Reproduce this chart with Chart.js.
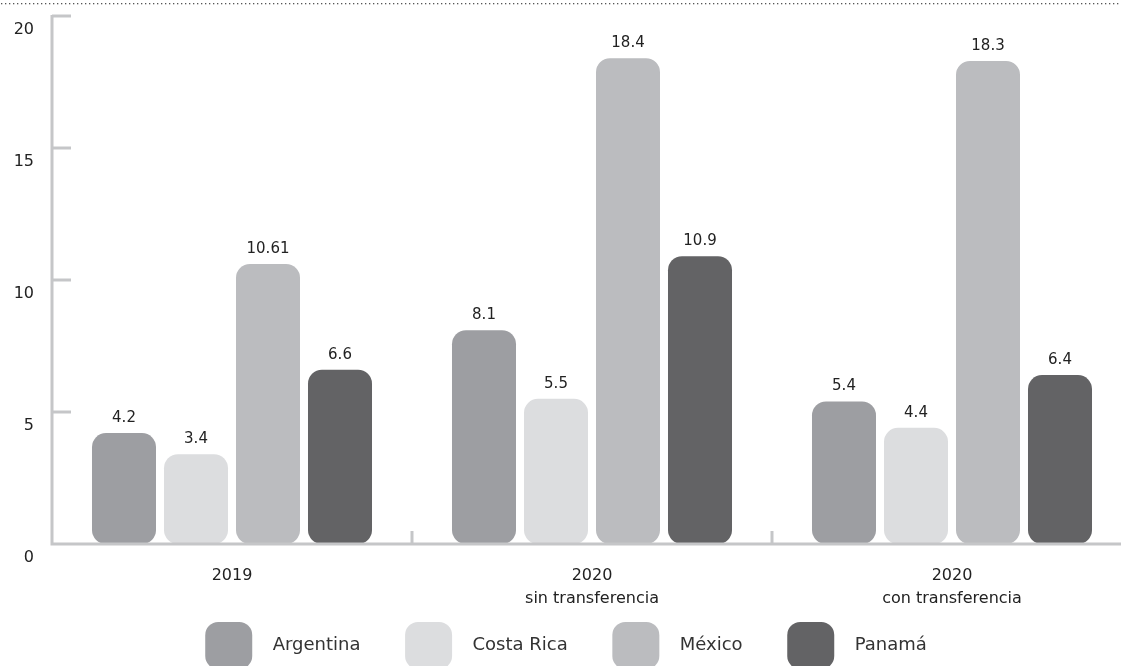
<!DOCTYPE html>
<html>
<head>
<meta charset="utf-8">
<script src="https://cdn.jsdelivr.net/npm/chart.js@4"></script>
<style>
  html, body { margin: 0; padding: 0; background: #fff; overflow: hidden; }
  #wrap { width: 1132px; height: 679px; position: relative; }
</style>
</head>
<body>
<div id="wrap"><canvas id="myChart"></canvas></div>
<script>
var categories = ['2019', ['2020', 'sin transferencia'], ['2020', 'con transferencia']];
var countries = ['Argentina', 'Costa Rica', 'México', 'Panamá'];
var argentina = [4.2, 8.1, 5.4];
var costaRica = [3.4, 5.5, 4.4];
var mexico = [10.61, 18.4, 18.3];
var panama = [6.6, 10.9, 6.4];
var yTicks = [0, 5, 10, 15, 20];

var colors = ['#9d9ea2', '#dcdddf', '#bbbcbf', '#636365'];
var series = [argentina, costaRica, mexico, panama];
var axisGrey = '#c5c6c8';
var fontFamily = '"DejaVu Sans", sans-serif';

// axis line, short tick stubs, category dividers, value labels, dotted rule on top
var decorations = {
  id: 'decorations',
  afterDraw: function (chart) {
    var c = chart.ctx, area = chart.chartArea;
    var y = chart.scales.y, x = chart.scales.x;
    c.save();
    c.strokeStyle = axisGrey;
    c.lineWidth = 3;
    c.beginPath();
    c.moveTo(area.left, area.top - 1);
    c.lineTo(area.left, area.bottom);
    c.lineTo(area.right, area.bottom);
    c.stroke();
    yTicks.forEach(function (v) {
      if (v === 0) return;
      var py = y.getPixelForValue(v);
      c.beginPath();
      c.moveTo(area.left, py);
      c.lineTo(area.left + 19, py);
      c.stroke();
    });
    for (var i = 1; i < categories.length; i++) {
      var px = (x.getPixelForValue(i - 1) + x.getPixelForValue(i)) / 2;
      c.beginPath();
      c.moveTo(px, area.bottom);
      c.lineTo(px, area.bottom - 13);
      c.stroke();
    }
    // value labels
    c.fillStyle = '#222';
    c.font = '15px ' + fontFamily;
    c.textAlign = 'center';
    c.textBaseline = 'middle';
    chart.data.datasets.forEach(function (ds, di) {
      chart.getDatasetMeta(di).data.forEach(function (bar, i) {
        c.fillText(String(ds.data[i]), bar.x, bar.y - 15);
      });
    });
    // dotted rule
    c.fillStyle = '#555';
    for (var dx = 1; dx < chart.width; dx += 4) {
      c.fillRect(dx, 3, 1.3, 1.3);
    }
    c.restore();
  }
};

var ctx = document.getElementById('myChart').getContext('2d');

var chart = new Chart(ctx, {
  type: 'bar',
  data: {
    labels: categories,
    datasets: countries.map(function (name, i) {
      return {
        label: name,
        data: series[i],
        backgroundColor: colors[i],
        borderRadius: 14,
        borderSkipped: false,
        barPercentage: 0.889,
        categoryPercentage: 0.8
      };
    })
  },
  options: {
    responsive: true,
    maintainAspectRatio: false,
    animation: false,
    layout: { padding: { top: 16, right: 0, bottom: 0, left: 0 } },
    plugins: {
      tooltip: { enabled: false },
      legend: {
        position: 'bottom',
        labels: {
          boxWidth: 47,
          boxHeight: 47,
          useBorderRadius: true,
          borderRadius: 13,
          padding: 16,
          color: '#333',
          font: { family: fontFamily, size: 18 },
          // spaces around the names widen the gap to the swatches
          generateLabels: function (chart) {
            var n = chart.data.datasets.length;
            return chart.data.datasets.map(function (ds, i) {
              return {
                text: '  ' + ds.label + (i < n - 1 ? '     ' : ''),
                fillStyle: ds.backgroundColor,
                strokeStyle: ds.backgroundColor,
                lineWidth: 0,
                fontColor: '#333',
                borderRadius: 13,
                datasetIndex: i
              };
            });
          }
        }
      }
    },
    scales: {
      x: {
        afterFit: function (scale) { scale.height = 62; },
        grid: { display: false, drawTicks: false },
        border: { display: false },
        ticks: {
          color: '#222',
          padding: 21,
          font: { family: fontFamily, size: 16, lineHeight: 1.4 }
        }
      },
      y: {
        min: 0,
        max: 20,
        afterFit: function (scale) {
          scale.width = 52;
          scale.paddingTop = 0;
          scale.paddingBottom = 0;
        },
        afterBuildTicks: function (scale) {
          scale.ticks = yTicks.map(function (v) { return { value: v }; });
        },
        grid: { display: false, drawTicks: false },
        border: { display: false },
        ticks: {
          color: '#222',
          padding: 18,
          labelOffset: 14,
          font: { family: fontFamily, size: 16 }
        }
      }
    }
  },
  plugins: [decorations]
});
</script>
</body>
</html>
